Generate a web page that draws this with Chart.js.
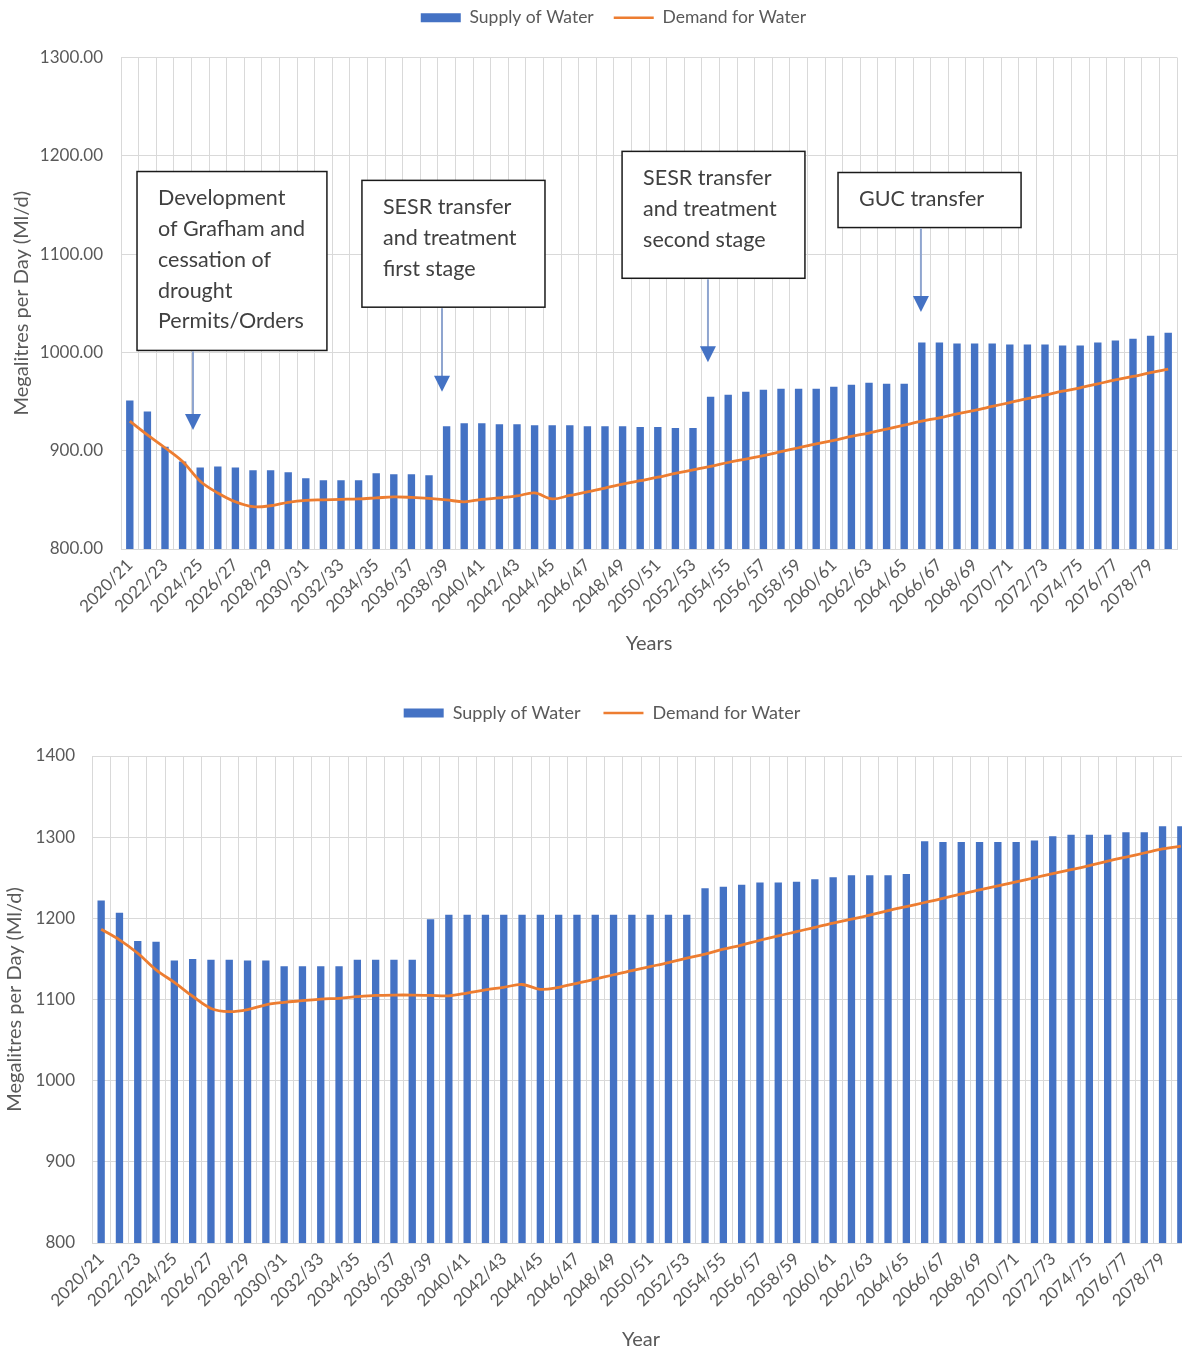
<!DOCTYPE html>
<html>
<head>
<meta charset="utf-8">
<script src="https://cdn.jsdelivr.net/npm/chart.js@4/dist/chart.umd.min.js"></script>
<style>
  html, body { margin: 0; padding: 0; background: #fff; overflow: hidden; width: 1182px; height: 1350px; }
  .wrap { position: absolute; left: 0; }
  #w1 { top: 0; width: 1182px; height: 665px; }
  #w2 { top: 690px; width: 1195px; height: 670px; }
</style>
</head>
<body>
<div class="wrap" id="w1"><canvas id="c1"></canvas></div>
<div class="wrap" id="w2"><canvas id="c2"></canvas></div>
<script>
// Planning years (every other one is labelled on the axis)
const years = [
  '2020/21','2021/22','2022/23','2023/24','2024/25','2025/26','2026/27','2027/28','2028/29','2029/30',
  '2030/31','2031/32','2032/33','2033/34','2034/35','2035/36','2036/37','2037/38','2038/39','2039/40',
  '2040/41','2041/42','2042/43','2043/44','2044/45','2045/46','2046/47','2047/48','2048/49','2049/50',
  '2050/51','2051/52','2052/53','2053/54','2054/55','2055/56','2056/57','2057/58','2058/59','2059/60',
  '2060/61','2061/62','2062/63','2063/64','2064/65','2065/66','2066/67','2067/68','2068/69','2069/70',
  '2070/71','2071/72','2072/73','2073/74','2074/75','2075/76','2076/77','2077/78','2078/79','2079/80'
];

// Upper chart: supply and demand (Ml/d)
const supplyUpper = [
  951, 940, 904, 889, 883, 884, 883, 880, 880, 878,
  872, 870, 870, 870, 877, 876, 876, 875, 925, 928,
  928, 927, 927, 926, 926, 926, 925, 925, 925, 924,
  924, 923, 923, 955, 957, 960, 962, 963, 963, 963,
  965, 967, 969, 968, 968, 1010, 1010, 1009, 1009, 1009,
  1008, 1008, 1008, 1007, 1007, 1010, 1012, 1014, 1017, 1020
];
const demandUpper = [
  930, 916, 903, 889, 869, 857, 848, 843, 844, 847.5,
  849.5, 850, 850.5, 851, 852, 853, 852.5, 851.5, 850, 848,
  850.5, 852, 854, 857, 851, 854.5, 858, 862, 866, 869.5,
  873, 877, 880.5, 884, 888, 891.5, 895, 899, 903, 907,
  910.5, 914.5, 918, 922, 926, 930, 933.5, 937.5, 941, 945,
  949, 953, 956.5, 960.5, 964, 968, 972, 975.5, 979.5, 983
];

// Lower chart: supply and demand (Ml/d)
const supplyLower = [
  1222, 1207, 1172, 1171, 1148, 1150, 1149, 1149, 1148, 1148,
  1141, 1141, 1141, 1141, 1149, 1149, 1149, 1149, 1199, 1204.5,
  1204.5, 1204.5, 1204.5, 1204.5, 1204.5, 1204.5, 1204.5, 1204.5, 1204.5, 1204.5,
  1204.5, 1204.5, 1204.5, 1237, 1239, 1241.5, 1244, 1244, 1245, 1248,
  1250.5, 1253, 1253, 1253, 1254.5, 1295, 1294, 1294, 1294, 1294,
  1294, 1296, 1301, 1303, 1303, 1303, 1306, 1306, 1313.5, 1313.5
];
const demandLower = [
  1186.5, 1173.5, 1157, 1136.5, 1121, 1104, 1089, 1085, 1087.5, 1093.5,
  1096.5, 1098.5, 1100.5, 1101.5, 1103.5, 1105, 1105.5, 1105.5, 1105, 1104.5,
  1108, 1112, 1115, 1118.5, 1112.5, 1115, 1120, 1125, 1130.5, 1135.5,
  1140.5, 1145.5, 1151, 1156, 1162, 1167, 1173, 1178.5, 1183.5, 1189,
  1194, 1199, 1204, 1209.5, 1214.5, 1219.5, 1224.5, 1230, 1235, 1240,
  1245, 1250, 1255, 1260, 1265, 1270.5, 1275.5, 1280.5, 1285.5, 1289
];

// Scheme milestones on the upper chart, placed in axis units (category index / Ml/d)
const milestones = [
  { lines: ['Development', 'of Grafham and', 'cessation of', 'drought', 'Permits/Orders'],
    x0: 0.41, x1: 11.2, yTop: 1184, yBottom: 1002, arrowX: 3.59, arrowTip: 921 },
  { lines: ['SESR transfer', 'and treatment', 'first stage'],
    x0: 13.19, x1: 23.59, yTop: 1175, yBottom: 1046, arrowX: 17.74, arrowTip: 960 },
  { lines: ['SESR transfer', 'and treatment', 'second stage'],
    x0: 27.97, x1: 38.36, yTop: 1204.5, yBottom: 1075.4, arrowX: 32.85, arrowTip: 990 },
  { lines: ['GUC transfer'],
    x0: 40.24, x1: 50.64, yTop: 1183, yBottom: 1127, arrowX: 44.95, arrowTip: 1041 }
];

const FONT = 'Lato, "Open Sans", sans-serif';
const TEXT = '#595959';
const GRID = '#d9d9d9';
const BLUE = '#4472C4';
const ORANGE = '#ED7D31';

// Moves the legend to a fixed top position and nudges it sideways
const legendNudge = {
  id: 'legendNudge',
  afterLayout(chart, args, opts) {
    const lg = chart.legend;
    if (!lg) return;
    const dy = opts.top - lg.top;
    lg.top += dy; lg.bottom += dy;
    lg.left += opts.dx; lg.right += opts.dx;
  }
};

// Boxed notes with arrows pointing at the years when schemes come in
const calloutPlugin = {
  id: 'callouts',
  afterDatasetsDraw(chart, args, opts) {
    const items = opts.items || [];
    if (!items.length) return;
    const { ctx, scales: { x, y } } = chart;
    ctx.save();
    items.forEach(it => {
      const l = x.getPixelForValue(it.x0), r = x.getPixelForValue(it.x1);
      const t = y.getPixelForValue(it.yTop), b = y.getPixelForValue(it.yBottom);
      ctx.fillStyle = '#ffffff';
      ctx.fillRect(l, t, r - l, b - t);
      ctx.strokeStyle = '#1a1a1a';
      ctx.lineWidth = 1.5;
      ctx.strokeRect(l, t, r - l, b - t);
      ctx.fillStyle = '#404040';
      ctx.font = opts.font;
      ctx.textAlign = 'left';
      ctx.textBaseline = 'middle';
      it.lines.forEach((s, k) => ctx.fillText(s, l + opts.inset, t + opts.first + k * opts.gap));
      const ax = x.getPixelForValue(it.arrowX);
      const tip = y.getPixelForValue(it.arrowTip);
      const head = 16, hw = 8;
      ctx.strokeStyle = '#8fa5cf';
      ctx.lineWidth = 2;
      ctx.beginPath();
      ctx.moveTo(ax, b + 1);
      ctx.lineTo(ax, tip - head + 1);
      ctx.stroke();
      ctx.fillStyle = BLUE;
      ctx.beginPath();
      ctx.moveTo(ax - hw, tip - head);
      ctx.lineTo(ax + hw, tip - head);
      ctx.lineTo(ax, tip);
      ctx.closePath();
      ctx.fill();
    });
    ctx.restore();
  }
};

function legendLabels(chart) {
  const items = Chart.defaults.plugins.legend.labels.generateLabels(chart);
  items.forEach(it => {
    const ds = chart.data.datasets[it.datasetIndex];
    if (ds.type === 'line') {
      it.pointStyle = 'line';
      it.strokeStyle = ORANGE;
      it.lineWidth = 2.5;
    } else {
      it.pointStyle = 'rect';
      it.fillStyle = BLUE;
      it.lineWidth = 0;
    }
  });
  return items.sort((a, b) => b.datasetIndex - a.datasetIndex);
}

function makeChart(canvasId, cfg) {
  return new Chart(document.getElementById(canvasId), {
    type: 'bar',
    data: {
      labels: years,
      datasets: [
        { type: 'line', label: 'Demand for Water', data: cfg.demand, borderColor: ORANGE,
          backgroundColor: ORANGE, borderWidth: 2.8, pointRadius: 0, tension: 0.35, fill: false },
        { type: 'bar', label: 'Supply of Water', data: cfg.supply, backgroundColor: BLUE,
          borderWidth: 0, barPercentage: cfg.barPct, categoryPercentage: 1 }
      ]
    },
    options: {
      responsive: true,
      maintainAspectRatio: false,
      animation: false,
      events: [],
      layout: { padding: cfg.padding },
      plugins: {
        tooltip: { enabled: false },
        legend: {
          position: 'top',
          labels: {
            usePointStyle: true, pointStyleWidth: 40, boxHeight: 9,
            padding: cfg.legendPad, color: TEXT, font: { family: FONT, size: cfg.legendSize },
            generateLabels: legendLabels
          }
        },
        legendNudge: cfg.legend,
        callouts: cfg.callouts
      },
      scales: {
        x: {
          grid: { color: GRID, lineWidth: 1, drawTicks: false, offset: true },
          border: { color: GRID },
          ticks: {
            autoSkip: false, minRotation: 45, maxRotation: 45, padding: 6,
            color: TEXT, font: { family: FONT, size: 17 },
            callback: (v, i) => (i % 2 === 0 ? years[i] : '')
          },
          title: { display: true, text: cfg.xTitle, color: TEXT,
                   font: { family: FONT, size: cfg.titleSize }, padding: { top: 0, bottom: cfg.xTitlePad } },
          afterFit: s => { s.height = cfg.xHeight; s.paddingRight = 0; }
        },
        y: {
          min: cfg.min, max: cfg.max,
          grid: { color: GRID, lineWidth: 1, drawTicks: false },
          border: { color: GRID },
          ticks: { stepSize: 100, padding: cfg.yTickPad, color: TEXT,
                   font: { family: FONT, size: 17 }, callback: cfg.fmt },
          title: { display: true, text: 'Megalitres per Day (Ml/d)', color: TEXT,
                   font: { family: FONT, size: cfg.titleSize }, padding: { top: cfg.yTitlePad, bottom: 0 } },
          afterFit: s => { s.width = cfg.yWidth; }
        }
      }
    },
    plugins: [legendNudge, calloutPlugin]
  });
}

makeChart('c1', {
  supply: supplyUpper, demand: demandUpper, barPct: 0.42,
  min: 800, max: 1300, fmt: v => v.toFixed(2),
  padding: { top: 10, left: 0, right: 5, bottom: 0 },
  legend: { top: -11, dx: 25 }, legendSize: 17.5, legendPad: 20,
  titleSize: 20,
  xTitle: 'Years', xTitlePad: 9, xHeight: 116,
  yWidth: 121, yTickPad: 18, yTitlePad: 10,
  callouts: { items: milestones, font: '21.5px ' + FONT, inset: 21, first: 27, gap: 30.7 }
});

makeChart('c2', {
  supply: supplyLower, demand: demandLower, barPct: 0.40,
  min: 800, max: 1400, fmt: v => String(v),
  padding: { top: 15, left: 0, right: 5, bottom: 0 },
  legend: { top: -9, dx: 7 }, legendSize: 18, legendPad: 23,
  titleSize: 20,
  xTitle: 'Year', xTitlePad: 8, xHeight: 117,
  yWidth: 92, yTickPad: 17, yTitlePad: 3,
  callouts: { items: [] }
});
</script>
</body>
</html>
